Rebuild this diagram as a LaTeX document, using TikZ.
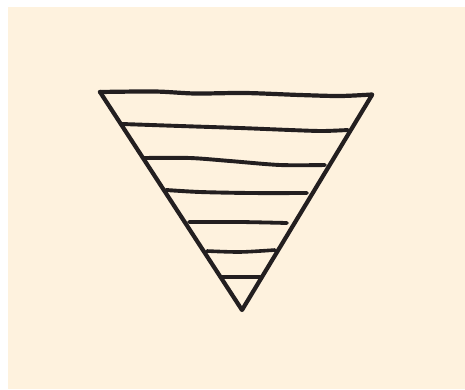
\documentclass[tikz,border=0pt]{standalone}
\definecolor{cream}{RGB}{254,242,222}
\definecolor{ink}{RGB}{35,31,32}
\begin{document}
\begin{tikzpicture}[x=1pt,y=-1pt,
  ink line/.style={draw=ink,line width=4.2pt,line cap=round,line join=round}]
\useasboundingbox (0,0) rectangle (465,389);
\fill[white] (0,0) rectangle (465,389);
\fill[cream] (8,7) rectangle (465,389);
% triangle
\draw[ink line] (100,92) -- (242,310) -- (372,95);
\draw[ink line] plot[smooth,tension=0.5] coordinates {(100,92) (155,91.5) (195,93.5) (245,93) (300,95) (340,96) (372,94.5)};
% stripes
\draw[ink line,line width=3.9pt] plot[smooth,tension=0.5] coordinates {(122,124) (180,126) (240,128) (290,130) (322,131) (348,130)};
\draw[ink line,line width=3.9pt] plot[smooth,tension=0.5] coordinates {(144,158) (190,158) (230,161) (280,165) (325,165)};
\draw[ink line,line width=3.9pt] plot[smooth,tension=0.5] coordinates {(166,190) (200,192) (250,193) (307,193)};
\draw[ink line,line width=3.8pt] plot[smooth,tension=0.5] coordinates {(189,222) (240,222) (287,223)};
\draw[ink line,line width=3.6pt] plot[smooth,tension=0.5] coordinates {(207,251) (240,252) (275,250)};
\draw[ink line,line width=3.4pt] (221,277) -- (260,277);
\end{tikzpicture}
\end{document}
